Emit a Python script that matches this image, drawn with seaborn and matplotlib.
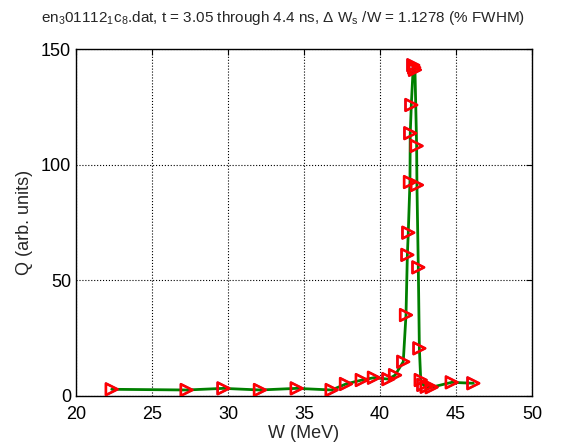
import numpy as np
import pandas as pd
import seaborn as sns
import matplotlib
matplotlib.use("Agg")
import matplotlib.pyplot as plt

# energia W (MeV) y carga Q (arb. units)
W = [22.35, 27.28, 29.70, 32.10, 34.52, 36.82, 37.76, 38.80, 39.60, 40.55,
     40.99, 41.53, 41.71, 41.80, 41.86, 41.97, 41.99, 42.06, 42.19, 42.25,
     42.30, 42.41, 42.43, 42.52, 42.59, 42.68, 42.85, 43.07, 43.40, 44.72,
     46.14]
Q = [2.9, 2.6, 3.3, 2.6, 3.3, 2.6, 5.2, 6.9, 7.9, 7.3,
     9.0, 14.8, 35.0, 61.0, 70.6, 92.5, 113.6, 125.8, 143.0, 142.0,
     141.0, 108.1, 91.2, 55.6, 20.6, 6.9, 4.8, 4.0, 3.8, 5.9,
     5.5]

x_ticks = [20, 25, 30, 35, 40, 45, 50]
y_ticks = [0, 50, 100, 150]

df = pd.DataFrame({"W": W, "Q": Q})

sns.set_style("white")
plt.rcParams["font.family"] = ["Liberation Sans", "DejaVu Sans"]
plt.rcParams["mathtext.fontset"] = "custom"
plt.rcParams["mathtext.rm"] = "Liberation Sans"
plt.rcParams["mathtext.it"] = "Liberation Sans"

fig = plt.figure(figsize=(5.62, 4.46), dpi=100)
ax = fig.add_axes([76 / 562, 1 - 396 / 446, 456 / 562, 347 / 446])

# linea verde que une los puntos en el orden original
sns.lineplot(data=df, x="W", y="Q", sort=False, estimator=None,
             color=(0, 0.5, 0), linewidth=2, ax=ax, zorder=2)
# marcadores: azul debajo, rojo hueco encima
sns.scatterplot(data=df, x="W", y="Q", marker=">", s=70,
                facecolors="none", edgecolor="blue", linewidth=1.4,
                ax=ax, zorder=3)
sns.scatterplot(data=df, x="W", y="Q", marker=">", s=70,
                facecolors="none", edgecolor="red", linewidth=1.9,
                ax=ax, zorder=4)

ax.set_xlim(20, 50)
ax.set_ylim(0, 150)
ax.set_xticks(x_ticks)
ax.set_yticks(y_ticks)
ax.grid(True, linestyle=":", color="black", linewidth=0.8)
ax.tick_params(direction="in", top=True, right=True, length=4,
               labelsize=13, colors="black")
ax.tick_params(axis="x", pad=7)
for s in ax.spines.values():
    s.set_visible(True)
    s.set_color("black")
    s.set_linewidth(1.0)

ax.set_xlabel("W (MeV)", fontsize=13, labelpad=2)
ax.set_ylabel("Q (arb. units)", fontsize=13, labelpad=6)

fig.text(283 / 562, 1 - 18 / 446,
         r"en$_3$01112$_1$c$_8$.dat, t = 3.05 through 4.4 ns, $\Delta$ W$_s$ /W = 1.1278 (% FWHM)",
         ha="center", va="center", fontsize=11)

fig.savefig("out.png", dpi=100)
